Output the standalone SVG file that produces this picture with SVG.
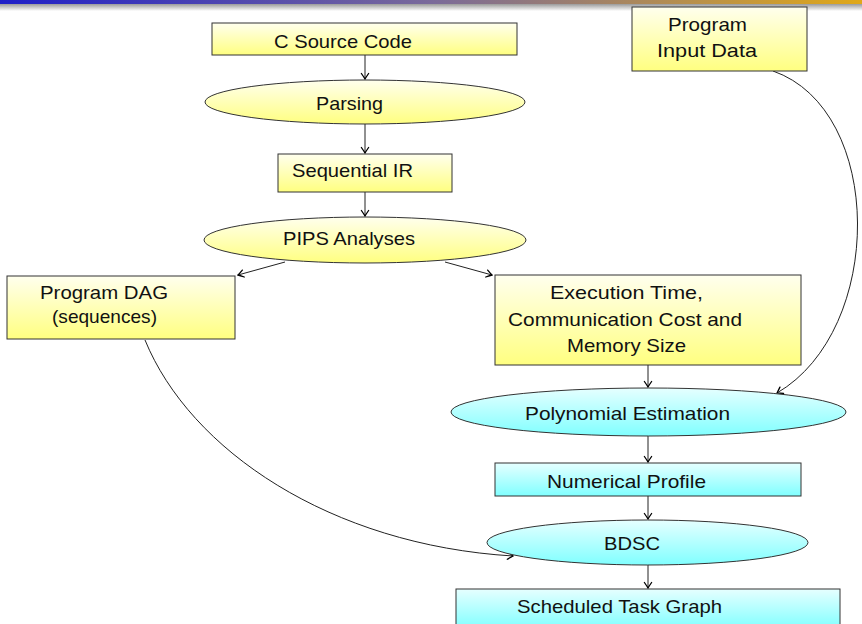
<svg xmlns="http://www.w3.org/2000/svg" width="862" height="624" viewBox="0 0 862 624">
<defs>
<linearGradient id="bar" x1="0" y1="0" x2="1" y2="0">
<stop offset="0" stop-color="#1f1fc8"/><stop offset="0.5" stop-color="#7a6a9a"/><stop offset="1" stop-color="#e0a818"/>
</linearGradient>
<linearGradient id="shadow" x1="0" y1="0" x2="0" y2="1">
<stop offset="0" stop-color="#9a9a9a"/><stop offset="1" stop-color="#ffffff"/>
</linearGradient>
<linearGradient id="yel" x1="0" y1="0" x2="0" y2="1">
<stop offset="0" stop-color="#ffffee"/><stop offset="1" stop-color="#ffff80"/>
</linearGradient>
<linearGradient id="cyan" x1="0" y1="0" x2="0" y2="1">
<stop offset="0" stop-color="#e6ffff"/><stop offset="1" stop-color="#80ffff"/>
</linearGradient>
<marker id="arr" viewBox="-7 -5 8 10" refX="0" refY="0" markerWidth="8" markerHeight="10" orient="auto" markerUnits="userSpaceOnUse">
<path d="M-5.5,-3.6 Q-1.6,-0.9 0,0 Q-1.6,0.9 -5.5,3.6" fill="none" stroke="#000" stroke-width="1.3" stroke-linecap="round"/>
</marker>
<style>
.y{fill:url(#yel);stroke:#333;stroke-width:1}
.c{fill:url(#cyan);stroke:#333;stroke-width:1}
text{font-family:"Liberation Sans","DejaVu Sans",sans-serif;font-size:19px;fill:#111}
.e{fill:none;stroke:#222;stroke-width:1;marker-end:url(#arr)}
</style>
</defs>
<rect x="0" y="0" width="862" height="625" fill="#fff"/>
<rect x="0" y="0" width="862" height="4" fill="url(#bar)"/>
<rect x="0" y="4" width="862" height="7" fill="url(#shadow)"/>

<g id="connectors">
<path class="e" d="M365,55 L365,79"/>
<path class="e" d="M365,124 L365,153"/>
<path class="e" d="M365,192 L365,216"/>
<path class="e" d="M285,262 L238,275"/>
<path class="e" d="M445,262 L492,275"/>
<path class="e" d="M648,365 L648,387"/>
<path class="e" d="M773,71 C885,110 885,330 777,393"/>
<path class="e" d="M648,436 L648,462"/>
<path class="e" d="M648,496 L648,519"/>
<path class="e" d="M145,340 C190,450 330,545 513,556"/>
<path class="e" d="M648,565 L648,588"/>
</g>

<g id="c-source"><rect class="y" x="212" y="23" width="305" height="32"/><text x="274" y="48" textLength="138" lengthAdjust="spacingAndGlyphs">C Source Code</text></g>
<g id="parsing"><ellipse class="y" cx="365" cy="102" rx="160" ry="22"/><text x="316" y="110" textLength="67" lengthAdjust="spacingAndGlyphs">Parsing</text></g>
<g id="seq-ir"><rect class="y" x="278" y="154" width="174" height="38"/><text x="292" y="177" textLength="121" lengthAdjust="spacingAndGlyphs">Sequential IR</text></g>
<g id="pips"><ellipse class="y" cx="365" cy="240" rx="161" ry="23"/><text x="283" y="245" textLength="132" lengthAdjust="spacingAndGlyphs">PIPS Analyses</text></g>
<g id="input-data"><rect class="y" x="632" y="7" width="175" height="64"/><text x="668" y="31" textLength="79" lengthAdjust="spacingAndGlyphs">Program</text><text x="657" y="57" textLength="100" lengthAdjust="spacingAndGlyphs">Input Data</text></g>
<g id="dag"><rect class="y" x="7" y="276" width="228" height="63"/><text x="40" y="299" textLength="128" lengthAdjust="spacingAndGlyphs">Program DAG</text><text x="52" y="323" textLength="105" lengthAdjust="spacingAndGlyphs">(sequences)</text></g>
<g id="exec"><rect class="y" x="495" y="275" width="306" height="90"/><text x="550" y="299" textLength="153" lengthAdjust="spacingAndGlyphs">Execution Time,</text><text x="508" y="326" textLength="234" lengthAdjust="spacingAndGlyphs">Communication Cost and</text><text x="567" y="352" textLength="119" lengthAdjust="spacingAndGlyphs">Memory Size</text></g>
<g id="poly"><ellipse class="c" cx="648.5" cy="412" rx="197.5" ry="24"/><text x="525" y="420" textLength="205" lengthAdjust="spacingAndGlyphs">Polynomial Estimation</text></g>
<g id="numprof"><rect class="c" x="495" y="463" width="306" height="33"/><text x="547" y="488" textLength="159" lengthAdjust="spacingAndGlyphs">Numerical Profile</text></g>
<g id="bdsc"><ellipse class="c" cx="647.5" cy="542.5" rx="160.5" ry="22.5"/><text x="604" y="550" textLength="56" lengthAdjust="spacingAndGlyphs">BDSC</text></g>
<g id="sched"><rect class="c" x="456" y="589" width="384" height="40"/><text x="517" y="613" textLength="205" lengthAdjust="spacingAndGlyphs">Scheduled Task Graph</text></g>
</svg>
